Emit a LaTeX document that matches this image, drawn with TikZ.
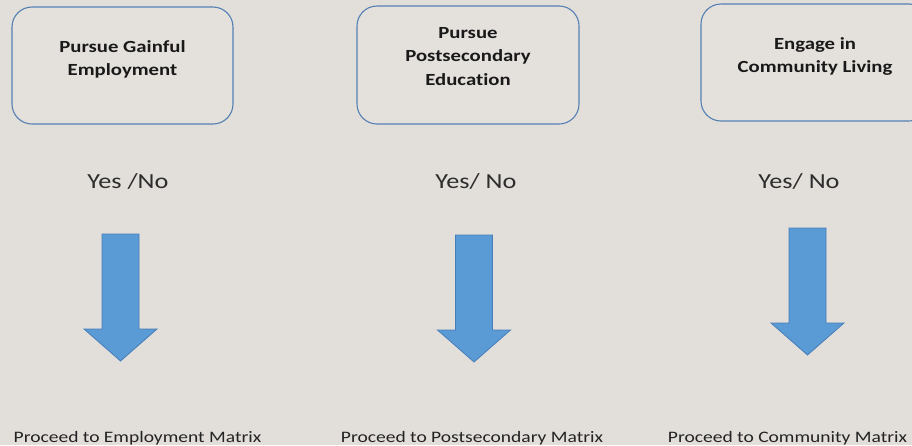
\documentclass[tikz,border=0pt]{standalone}
\usepackage{fontspec}
\newfontfamily\slidefont[FakeStretch=1.22,RawFeature=-liga]{Carlito}
\begin{document}
\begin{tikzpicture}[x=1pt,y=-1pt,
  titlebox/.style={draw=boxline, line width=1.1pt, rounded corners=20pt, fill=boxfill},
  titletext/.style={inner sep=0pt, anchor=north, align=center, text=titleink,
    font=\slidefont\fontsize{17}{23.5}\selectfont\bfseries},
  choice/.style={inner sep=0pt, anchor=base, text=choiceink,
    font=\slidefont\fontsize{21.5}{25}\selectfont},
  nextstep/.style={inner sep=0pt, anchor=base, text=nextink,
    font=\slidefont\fontsize{16}{19}\selectfont},
  blockarrow/.style={fill=arrowfill, draw=arrowline, line width=0.8pt, line join=miter},
  pics/downarrow/.style={code={
    \draw[blockarrow] (-18.5,0) -- (18.5,0) -- (18.5,95) -- (36.5,95) -- (0,127)
      -- (-36.5,95) -- (-18.5,95) -- cycle;
  }}
]
\definecolor{bg}{RGB}{226,223,218}
\definecolor{boxfill}{RGB}{228,225,221}
\definecolor{boxline}{RGB}{84,128,178}
\definecolor{arrowfill}{RGB}{91,155,213}
\definecolor{arrowline}{RGB}{70,125,185}
\definecolor{titleink}{RGB}{25,25,25}
\definecolor{choiceink}{RGB}{45,45,45}
\definecolor{nextink}{RGB}{35,35,35}

\useasboundingbox (0,0) rectangle (912,445);
\clip (0,0) rectangle (912,445);
\fill[bg] (0,0) rectangle (912,445);

% goal boxes
\draw[titlebox] (12,7) rectangle (233,124);
\draw[titlebox] (357,6) rectangle (579,124);
\draw[titlebox] (701,4) rectangle (929,121);

\node[titletext] (goalA) at (122.5,40) {Pursue Gainful\\Employment};
\node[titletext] (goalB) at (468,27) {Pursue\\Postsecondary\\Education};
\node[titletext] (goalC) at (815,37) {Engage in\\Community Living};

% answers
\node[choice] (ansA) at (128,188) {Yes /No};
\node[choice] (ansB) at (476,188) {Yes/ No};
\node[choice] (ansC) at (799,188) {Yes/ No};

% block arrows
\pic at (120.5,234) {downarrow};
\pic at (474,235) {downarrow};
\pic at (807.5,228) {downarrow};

% next steps
\node[nextstep] (nextA) at (137.5,442) {Proceed to Employment Matrix};
\node[nextstep] (nextB) at (472,442) {Proceed to Postsecondary Matrix};
\node[nextstep] (nextC) at (787.5,442) {Proceed to Community Matrix};
\end{tikzpicture}
\end{document}
